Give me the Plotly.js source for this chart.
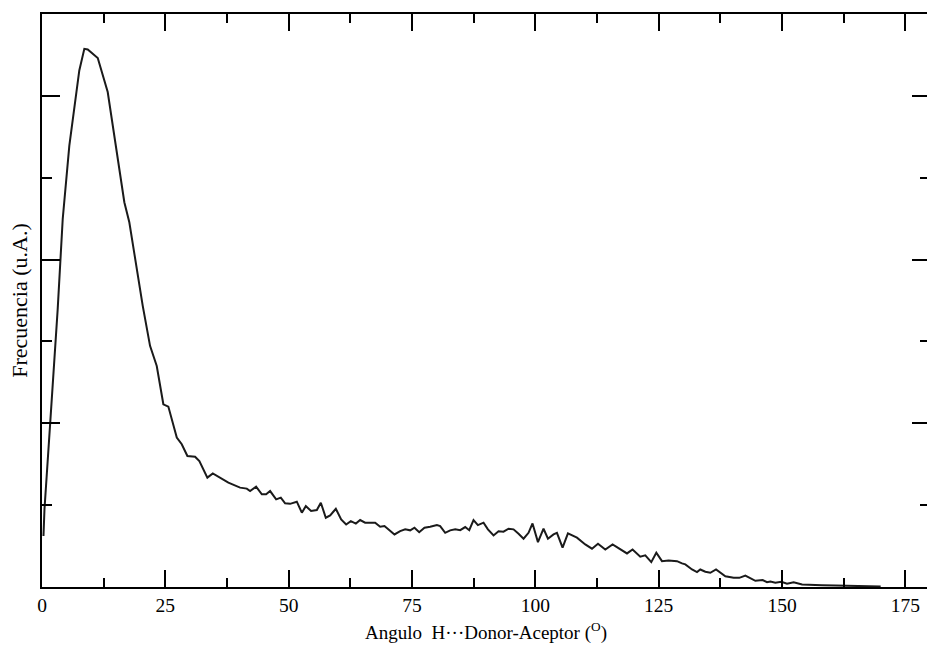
<!DOCTYPE html>
<html>
<head>
<meta charset="utf-8">
<script src="https://cdn.plot.ly/plotly-3.0.1.min.js"></script>
<style>
html,body{margin:0;padding:0;background:#fff;overflow:hidden;}
#chart{width:932px;height:649px;}
</style>
</head>
<body>
<div id="chart"></div>
<script>
// Angle (degrees) and frequency (arbitrary units)
const angle = [
  0.3, 0.5, 1.62, 3.18, 4.2, 5.54, 7.56, 8.58, 9.27, 11.3, 13.32, 16.69, 17.7, 20.42,
  21.9, 23.26, 24.6, 25.61, 27.32, 28.33, 29.47, 31.03, 31.9, 33.52, 34.62, 36.1, 37.78,
  40.15, 41.51, 42.18, 43.4, 44.56, 45.43, 46.24, 47.46, 48.41, 49.28, 50.29, 51.65,
  52.67, 53.48, 54.55, 55.71, 56.52, 57.53, 58.41, 59.56, 60.64, 61.65, 62.6, 63.62,
  64.49, 65.5, 67.53, 68.55, 69.42, 70.37, 71.45, 72.6, 73.62, 74.63, 75.5, 76.46,
  77.53, 78.69, 80.05, 80.71, 81.73, 82.74, 83.76, 84.77, 85.79, 86.6, 87.47, 88.36,
  89.5, 90.39, 91.53, 92.54, 93.55, 94.57, 95.58, 96.6, 97.61, 98.62, 99.43, 100.53,
  101.66, 102.56, 103.69, 104.38, 105.52, 106.61, 108.44, 110.12, 111.48, 112.7,
  114.18, 115.66, 117.22, 118.58, 119.71, 121.27, 122.29, 123.5, 124.52, 125.67,
  127.01, 128.72, 129.73, 130.4, 131.76, 132.77, 133.44, 134.46, 135.47, 136.63,
  138.52, 140.2, 141.35, 142.57, 144.6, 146.08, 146.97, 147.64, 148.65, 149.87,
  151.02, 152.36, 154.07, 156.09, 158.12, 160.82, 164.0, 167.0, 170.0
];
const frecuencia = [
  0.311, 0.474, 0.983, 1.697, 2.248, 2.696, 3.155, 3.287, 3.283, 3.231, 3.023, 2.350, 2.228, 1.717,
  1.473, 1.350, 1.116, 1.102, 0.913, 0.872, 0.800, 0.796, 0.769, 0.668, 0.694, 0.668, 0.637,
  0.607, 0.601, 0.586, 0.613, 0.566, 0.566, 0.586, 0.535, 0.546, 0.511, 0.508, 0.521,
  0.454, 0.494, 0.464, 0.470, 0.515, 0.423, 0.437, 0.478, 0.413, 0.382, 0.402, 0.387,
  0.409, 0.393, 0.393, 0.368, 0.372, 0.346, 0.321, 0.341, 0.352, 0.346, 0.362, 0.335,
  0.362, 0.368, 0.378, 0.372, 0.331, 0.346, 0.352, 0.347, 0.366, 0.347, 0.409, 0.378,
  0.393, 0.352, 0.315, 0.341, 0.338, 0.356, 0.352, 0.325, 0.295, 0.331, 0.388, 0.274,
  0.356, 0.295, 0.321, 0.331, 0.240, 0.327, 0.301, 0.260, 0.234, 0.264,
  0.229, 0.260, 0.229, 0.205, 0.229, 0.185, 0.193, 0.152, 0.209, 0.158,
  0.162, 0.158, 0.144, 0.138, 0.107, 0.091, 0.107, 0.093, 0.087, 0.107,
  0.066, 0.056, 0.056, 0.070, 0.038, 0.042, 0.029, 0.034, 0.026, 0.032,
  0.020, 0.029, 0.015, 0.015, 0.011, 0.009, 0.006, 0.004, 0.003
];
const xTickVals = [0, 25, 50, 75, 100, 125, 150, 175];
const xTickText = ["0", "25", "50", "75", "100", "125", "150", "175"];

const serif = "Liberation Serif, DejaVu Serif, serif";

const trace = {
  x: angle, y: frecuencia, type: "scatter", mode: "lines",
  line: {color: "#1a1a1a", width: 2}, hoverinfo: "skip"
};

const layout = {
  width: 932, height: 649,
  margin: {l: 42, r: 2, t: 14, b: 62},
  paper_bgcolor: "#fff", plot_bgcolor: "#fff",
  showlegend: false,
  font: {family: serif, color: "#000", size: 19},
  xaxis: {
    range: [0, 180], showgrid: false, zeroline: false,
    showline: true, linecolor: "#000", linewidth: 2, mirror: "ticks",
    ticks: "inside", ticklen: 17, tickwidth: 2, tickcolor: "#000",
    tickvals: xTickVals, ticktext: xTickText,
    tickfont: {family: serif, size: 19.5, color: "#000"},
    minor: {dtick: 12.5, tick0: 0, ticks: "inside", ticklen: 9, tickwidth: 2, tickcolor: "#000", showgrid: false},
    title: {text: "Angulo  H\u00B7\u00B7\u00B7Donor-Aceptor (<sup>O</sup>)", font: {family: serif, size: 19, color: "#000"}, standoff: 10}
  },
  yaxis: {
    range: [0, 3.5], showgrid: false, zeroline: false,
    showline: true, linecolor: "#000", linewidth: 2, mirror: "ticks",
    ticks: "inside", ticklen: 18, tickwidth: 2, tickcolor: "#000",
    dtick: 1, tick0: 0, showticklabels: false,
    minor: {dtick: 0.5, tick0: 0, ticks: "inside", ticklen: 10, tickwidth: 2, tickcolor: "#000", showgrid: false},
    title: {text: "Frecuencia (u.A.)", font: {family: serif, size: 22, color: "#000"}, standoff: 6}
  }
};

Plotly.newPlot("chart", [trace], layout, {displayModeBar: false, staticPlot: true});
</script>
</body>
</html>
